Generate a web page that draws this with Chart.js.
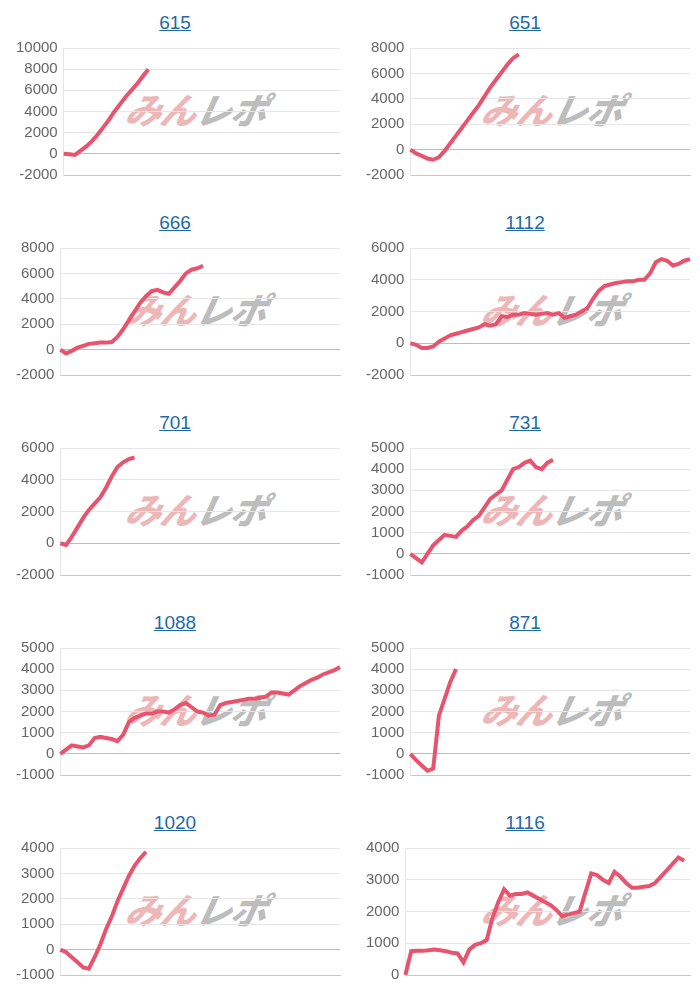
<!DOCTYPE html>
<html><head><meta charset="utf-8">
<script src="https://cdn.jsdelivr.net/npm/chart.js@4"></script>
<style>
body{margin:0;background:#fff;font-family:Arial,"Liberation Sans",sans-serif;}
#wrap{position:relative;width:700px;height:1000px;}
.cell{position:absolute;width:350px;height:200px;}
.title{position:absolute;top:12px;left:0;width:100%;text-align:center;font-size:19px;color:#1f6aa5;text-decoration:underline;}
.wm{position:absolute;top:82px;left:0;width:100%;text-align:center;font-size:36px;font-weight:900;font-style:italic;font-family:"Noto Sans CJK JP",sans-serif;letter-spacing:-1px;white-space:nowrap;transform:skewX(-12deg);}
.wm .a{color:rgba(225,135,135,0.6);} .wm .b{color:rgba(150,150,150,0.65);}
canvas{position:absolute;left:0;top:33px;}
</style></head><body><div id="wrap"></div>
<script>
const N = 50;
const labels = Array.from({length:N},(_,i)=>String(i+1));
const titles = ["615","651","666","1112","701","731","1088","871","1020","1116"];
const yMin = [-2000,-2000,-2000,-2000,-2000,-1000,-1000,-1000,-1000,0];
const yMax = [10000,8000,8000,6000,6000,5000,5000,5000,4000,4000];
const yStep = [2000,2000,2000,2000,2000,1000,1000,1000,1000,1000];
const d615 = [0,-50,-100,300,700,1200,1800,2500,3200,4000,4700,5400,6000,6600,7300,8000];
const d651 = [0,-300,-500,-700,-800,-600,-100,500,1100,1700,2300,2900,3500,4200,4900,5500,6100,6700,7200,7500];
const d666 = [0,-300,-100,150,300,450,500,550,550,600,1000,1600,2300,3000,3700,4200,4600,4700,4500,4400,4900,5400,6000,6300,6400,6600];
const d1112 = [0,-100,-300,-300,-200,100,300,500,600,700,800,900,1000,1200,1100,1200,1700,1650,1800,1800,1900,1850,1800,1850,1900,1800,1900,1600,1700,1800,2000,2200,2800,3300,3600,3700,3800,3850,3900,3900,4000,4000,4400,5100,5300,5200,4900,5000,5200,5300];
const d701 = [0,-100,400,1000,1600,2100,2500,2900,3500,4200,4800,5100,5300,5400];
const d731 = [0,-200,-400,0,400,650,900,850,800,1100,1300,1600,1800,2200,2600,2800,3000,3500,4000,4100,4300,4400,4100,4000,4300,4450];
const d1088 = [0,200,400,350,300,400,750,800,750,700,600,900,1500,1700,1800,1900,1900,2000,2000,1950,2100,2300,2400,2200,2000,1950,1800,1850,2300,2400,2450,2500,2550,2600,2600,2650,2700,2900,2900,2850,2800,3000,3200,3350,3500,3600,3750,3850,3950,4100];
const d871 = [0,-300,-550,-800,-700,1800,2600,3400,4000];
const d1020 = [0,-100,-300,-500,-700,-750,-300,200,800,1300,1900,2400,2900,3300,3600,3850];
const d1116 = [0,750,760,760,780,800,780,750,700,680,400,800,950,1000,1100,1800,2300,2700,2500,2550,2550,2600,2500,2400,2300,2200,2050,1850,1900,1950,2000,2600,3200,3150,3000,2900,3250,3100,2900,2750,2750,2780,2800,2900,3100,3300,3500,3700,3600];
const series = [d615,d651,d666,d1112,d701,d731,d1088,d871,d1020,d1116];

const wrap = document.getElementById('wrap');
series.forEach((data,k)=>{
  const cell = document.createElement('div');
  cell.className='cell';
  cell.style.left = (k%2)*350+'px';
  cell.style.top = Math.floor(k/2)*200+'px';
  const wmLeft = (k%2)? 28 : 22;
  cell.innerHTML = `<div class="title">${titles[k]}</div><div class="wm" style="left:${wmLeft}px"><span class="a">みん</span><span class="b">レポ</span></div>`;
  const cv = document.createElement('canvas');
  cv.width=350; cv.height=158;
  cv.style.width='350px'; cv.style.height='158px';
  cell.appendChild(cv);
  wrap.appendChild(cell);
  new Chart(cv,{type:'line',
    data:{labels,datasets:[{data,borderColor:'rgb(232,84,110)',backgroundColor:'rgb(232,84,110)',borderWidth:4,pointRadius:0,pointHoverRadius:0,tension:0,fill:false}]},
    options:{responsive:false,animation:false,
      layout:{padding:{left:10,right:10,top:2,bottom:8}},
      plugins:{legend:{display:false},tooltip:{enabled:false}},
      scales:{
        x:{ticks:{display:false},grid:{display:false},border:{color:'#c8c8c8'}},
        y:{min:yMin[k],max:yMax[k],ticks:{stepSize:yStep[k],autoSkip:false,padding:6,color:'#666',font:{size:15,family:'Arial'},callback:v=>String(v)},
           grid:{color:c=>c.tick&&c.tick.value===0?'#bdbdbd':'#e6e6e6',drawTicks:false},border:{color:'#e6e6e6'}}
      }}});
});
</script></body></html>
